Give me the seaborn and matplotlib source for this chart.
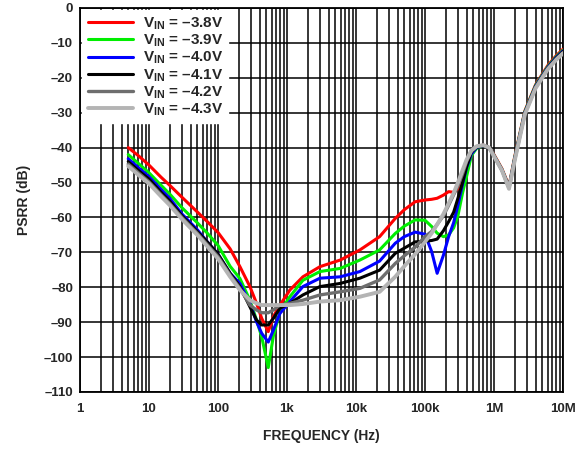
import numpy as np
import pandas as pd
import seaborn as sns
import matplotlib.pyplot as plt
from matplotlib.ticker import LogLocator, NullFormatter

# frequency points (Hz) shared by all curves
freq = [5, 7, 10, 15, 20, 30, 50, 70, 100, 150,
        208, 290, 362, 430, 535, 634, 790, 1100, 1700,
        3000, 5900, 11.4e3, 22e3, 37e3, 50e3, 72e3, 100e3, 125e3, 150e3, 185e3,
        220e3, 260e3, 300e3, 350e3, 400e3, 470e3, 560e3, 700e3, 850e3,
        1e6, 1.3e6, 1.65e6, 2e6, 2.8e6, 4e6, 6e6, 8e6, 10e6]

psrr_38 = [-40, -42.3, -45, -48.5, -50.8, -54.2, -58.4, -61.2, -64.3, -69,
           -74.1, -79.8, -84.6, -88.9, -92.7, -88.4, -85.1, -80.8, -77,
           -74.1, -72.2, -69.3, -65.5, -60.3, -57.8, -55.5, -55, -54.8, -54.5, -53.6,
           -52.6, -52.8, -51.8, -49.5, -44, -41, -39.8, -39.3, -40,
           -42, -46, -51, -42.5, -29.5, -22, -16.5, -13.6, -11.8]
psrr_39 = [-42, -44.5, -47.2, -50.8, -53.3, -57.2, -61.5, -64.5, -68, -74,
           -77.5, -83.7, -89.4, -94.2, -103, -94, -87, -82.7, -78,
           -75.5, -74.6, -72.2, -69.3, -64.6, -62.5, -60.7, -60.8, -62.6, -64.5, -65.5,
           -65, -63, -59.5, -53, -48.3, -42.3, -40.2, -39.4, -40,
           -42.2, -46.2, -51.3, -42.8, -29.7, -22.2, -16.8, -13.9, -12.1]
psrr_40 = [-43.2, -45.7, -48.3, -52, -54.5, -59, -63.5, -67, -70.5, -76,
           -78.9, -84.6, -89.9, -93.2, -95.7, -92.3, -87.5, -84.1, -79.8,
           -77.4, -77, -75.5, -72.5, -67.4, -65.5, -64.2, -64.8, -69.8, -76, -70.8,
           -65.5, -61.5, -56.5, -50.5, -45.8, -41.8, -40, -39.4, -40,
           -42.3, -46.3, -51.4, -43, -29.9, -22.4, -17, -14.1, -12.3]
psrr_41 = [-44, -46.5, -49, -52.8, -55.3, -59.5, -64, -67, -70.5, -76,
           -79.8, -85.6, -89.4, -90.8, -90.8, -88.9, -86, -84.6, -82.2,
           -79.8, -78.9, -77.4, -75.1, -70.3, -68.8, -67, -66.8, -66.6, -66.2, -63.8,
           -61.2, -58.5, -54.5, -50, -45.5, -41.3, -39.9, -39.4, -40,
           -42.4, -46.4, -51.5, -43.2, -30.1, -22.6, -17.2, -14.3, -12.5]
psrr_42 = [-44.7, -47.2, -49.8, -53.5, -56, -60, -64.5, -67.8, -71.2, -76.5,
           -80.3, -85.1, -86.5, -87.3, -87.3, -86.5, -85.1, -84.6, -83.7,
           -82.2, -81.3, -80.3, -77.9, -73.2, -71, -68.5, -65.5, -64, -62, -59.5,
           -56.5, -53.5, -51, -47.5, -44, -41, -39.7, -39.3, -40,
           -42.4, -46.4, -51.6, -43.4, -30.3, -22.8, -17.4, -14.6, -12.8]
psrr_43 = [-45.3, -47.8, -50.3, -54, -56.5, -60.5, -65, -68.3, -71.8, -77,
           -80.8, -83.7, -84.6, -85.1, -85.1, -85.1, -85.1, -85.1, -84.8,
           -84.1, -83.7, -82.7, -81.3, -77, -74, -70.5, -67, -64.5, -62, -59,
           -56, -53, -50, -46.5, -43.5, -40.8, -39.6, -39.3, -40,
           -42.5, -46.5, -51.8, -43.6, -30.5, -23, -17.6, -14.8, -13]

series_labels = ["V$_{IN}$ = \u20133.8V", "V$_{IN}$ = \u20133.9V", "V$_{IN}$ = \u20134.0V",
                 "V$_{IN}$ = \u20134.1V", "V$_{IN}$ = \u20134.2V", "V$_{IN}$ = \u20134.3V"]
series_colors = ["#ff0000", "#00ee00", "#0000ff", "#000000", "#6e6e6e", "#b4b4b4"]
series_widths = [2.2, 2.2, 2.2, 2.2, 2.4, 2.8]

x_ticks = [1, 10, 100, 1e3, 1e4, 1e5, 1e6, 1e7]
x_ticklabels = ["1", "10", "100", "1k", "10k", "100k", "1M", "10M"]
y_ticks = list(range(0, -111, -10))
y_ticklabels = ["0"] + ["\u2013%d" % abs(v) for v in y_ticks[1:]]

sns.set_style("white")
plt.rcParams['font.family'] = ['Liberation Sans', 'DejaVu Sans']
plt.rcParams['mathtext.fontset'] = 'custom'
plt.rcParams['mathtext.rm'] = 'Liberation Sans:bold'
plt.rcParams['mathtext.bf'] = 'Liberation Sans:bold'
plt.rcParams['mathtext.default'] = 'bf'

fig = plt.figure(figsize=(5.87, 4.5), dpi=100)
ax = fig.add_axes([80 / 587, 1 - 392 / 450, 483 / 587, 384 / 450])

all_series = [psrr_38, psrr_39, psrr_40, psrr_41, psrr_42, psrr_43]
for vals, lab, col, lw in zip(all_series, series_labels, series_colors, series_widths):
    df = pd.DataFrame({"freq": freq, "psrr": vals})
    sns.lineplot(data=df, x="freq", y="psrr", ax=ax, color=col, lw=lw,
                 label=lab, estimator=None, sort=True, zorder=3)

ax.set_xscale("log")
ax.set_xlim(1, 1e7)
ax.set_ylim(-110, 0)
ax.set_xticks(x_ticks)
ax.set_xticklabels(x_ticklabels, fontsize=9.5, fontweight="bold")
ax.xaxis.set_minor_locator(LogLocator(base=10, subs=range(2, 10), numticks=20))
ax.xaxis.set_minor_formatter(NullFormatter())
ax.set_yticks(y_ticks)
ax.set_yticklabels(y_ticklabels, fontsize=9.5, fontweight="bold")
ax.tick_params(which="both", length=0, pad=5)
ax.tick_params(axis="x", pad=8)
ax.grid(which="both", axis="x", color="black", lw=1.1)
ax.grid(which="major", axis="y", color="black", lw=1.1)
for sp in ax.spines.values():
    sp.set_color("black")
    sp.set_linewidth(1.3)

ax.set_xlabel("FREQUENCY (Hz)", fontsize=10, fontweight="bold", labelpad=10)
ax.set_ylabel("PSRR (dB)", fontsize=10, fontweight="bold", labelpad=9)

leg = ax.legend(loc="upper left", bbox_to_anchor=(0.0, 1.0), frameon=True,
                fancybox=False, edgecolor="white", facecolor="white", framealpha=1,
                prop={"weight": "bold", "size": 11}, handlelength=3.0,
                handletextpad=0.6, labelspacing=0.05, borderpad=0.35,
                borderaxespad=0.15)
leg.set_zorder(5)

fig.savefig("out.png", dpi=100)
